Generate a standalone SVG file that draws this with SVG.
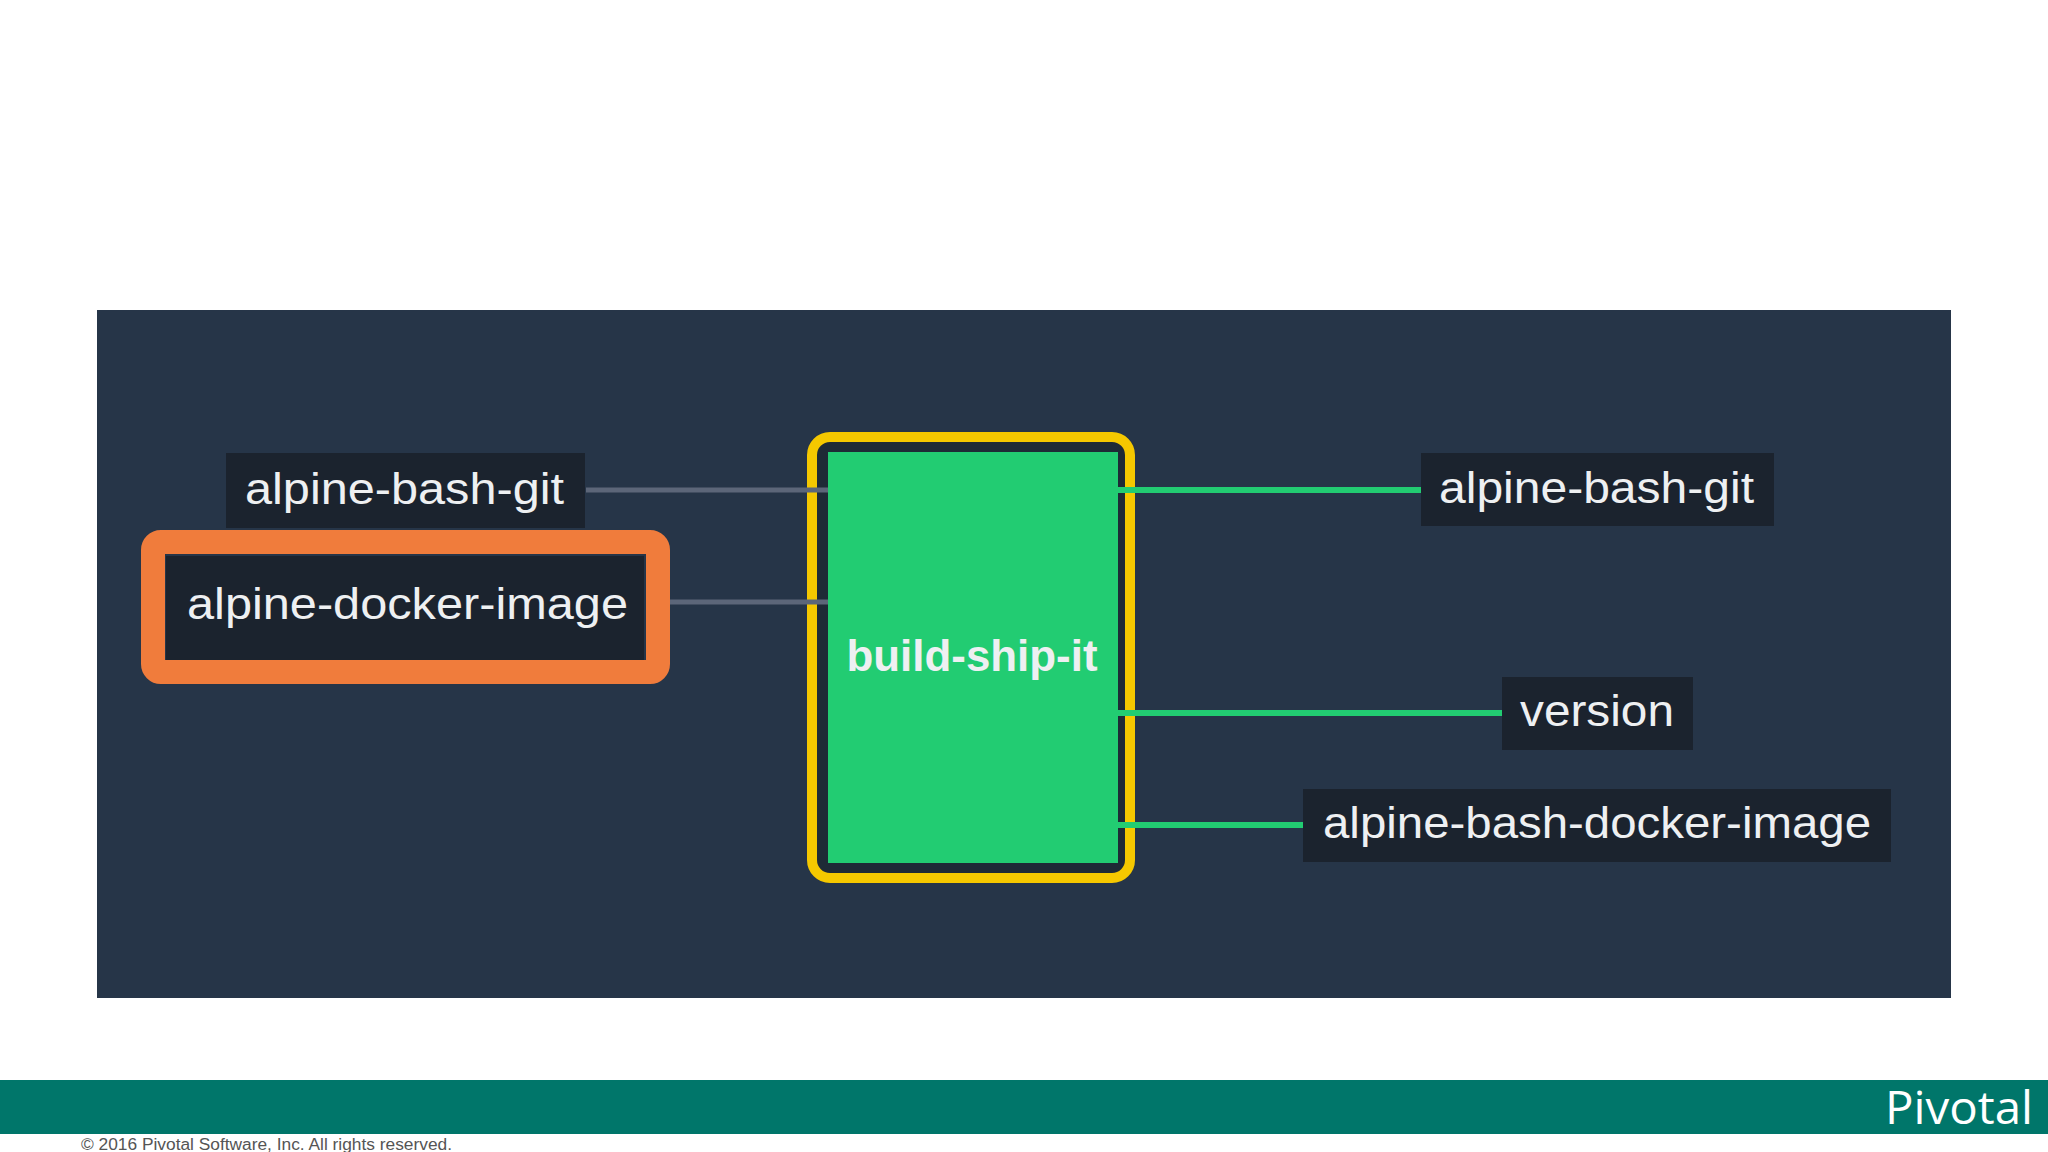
<svg xmlns="http://www.w3.org/2000/svg" width="2048" height="1152" viewBox="0 0 2048 1152">
<style>
.lbl{font-family:"Liberation Sans",Arial,sans-serif;font-size:44px;fill:#eef0f2}
.box{fill:#1b232e}
.gl{stroke:#5c6679;stroke-width:5}
.gr{stroke:#22cc72;stroke-width:6}
</style>
<rect width="2048" height="1152" fill="#ffffff"/>
<rect x="97" y="310" width="1854" height="688" fill="#263548"/>
<g id="build-ship-it">
<rect x="812" y="437" width="318" height="441" rx="18" fill="#1e2a36" stroke="#f5c800" stroke-width="10"/>
<rect x="828" y="452" width="290" height="411" fill="#22cc72"/>
<text class="lbl" x="972" y="671" text-anchor="middle" font-weight="bold" fill="#ffffff" textLength="251" lengthAdjust="spacingAndGlyphs">build-ship-it</text>
</g>
<g id="connectors">
<line class="gl" x1="586" y1="490" x2="828" y2="490"/>
<line class="gl" x1="670" y1="602" x2="828" y2="602"/>
<line class="gr" x1="1118" y1="490" x2="1421" y2="490"/>
<line class="gr" x1="1118" y1="713" x2="1502" y2="713"/>
<line class="gr" x1="1118" y1="825" x2="1303" y2="825"/>
</g>
<g id="in-alpine-bash-git">
<rect class="box" x="226" y="453" width="359" height="75"/>
<text class="lbl" x="245" y="504" textLength="319" lengthAdjust="spacingAndGlyphs">alpine-bash-git</text>
</g>
<g id="in-alpine-docker-image">
<rect x="153" y="542" width="505" height="130" rx="8" fill="none" stroke="#f07c3c" stroke-width="24"/>
<rect class="box" x="166" y="556" width="478" height="104"/>
<text class="lbl" x="187" y="619" textLength="441" lengthAdjust="spacingAndGlyphs">alpine-docker-image</text>
</g>
<g id="out-alpine-bash-git">
<rect class="box" x="1421" y="453" width="353" height="73"/>
<text class="lbl" x="1439" y="503" textLength="315" lengthAdjust="spacingAndGlyphs">alpine-bash-git</text>
</g>
<g id="out-version">
<rect class="box" x="1502" y="677" width="191" height="73"/>
<text class="lbl" x="1520" y="726" textLength="154" lengthAdjust="spacingAndGlyphs">version</text>
</g>
<g id="out-alpine-bash-docker-image">
<rect class="box" x="1303" y="789" width="588" height="73"/>
<text class="lbl" x="1323" y="838" textLength="548" lengthAdjust="spacingAndGlyphs">alpine-bash-docker-image</text>
</g>
<rect x="0" y="1080" width="2048" height="54" fill="#00766a"/>
<text x="1885" y="1124" font-family="'Open Sans','Liberation Sans',sans-serif" font-size="46" fill="#ffffff" textLength="148" lengthAdjust="spacingAndGlyphs">Pivotal</text>
<text x="81" y="1150" font-family="'Liberation Sans',Arial,sans-serif" font-size="16" fill="#555555" textLength="371" lengthAdjust="spacingAndGlyphs">© 2016 Pivotal Software, Inc.  All rights reserved.</text>
</svg>
